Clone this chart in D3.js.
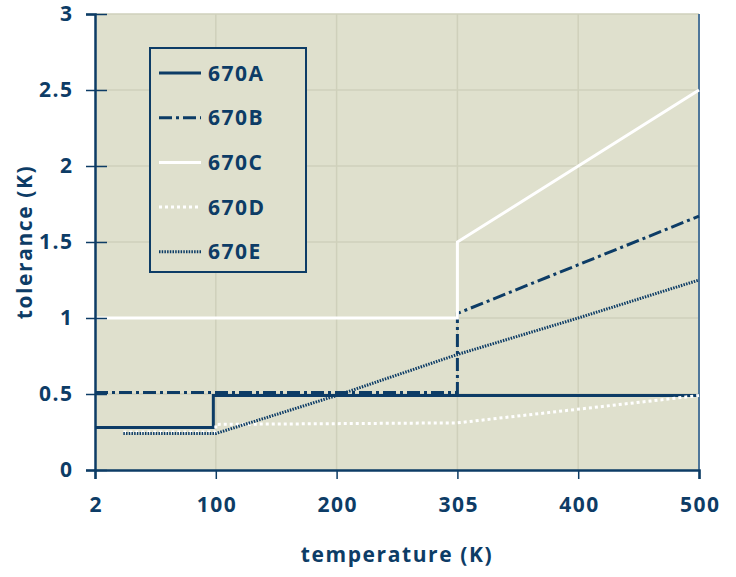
<!DOCTYPE html>
<html>
<head>
<meta charset="utf-8">
<script src="https://cdnjs.cloudflare.com/ajax/libs/d3/7.8.5/d3.min.js"></script>
<style>
	body { margin: 0; background: #fff; }
	text { font-family: "Open Sans", sans-serif; font-weight: 700; fill: #0d3c66; }
</style>
</head>
<body>
<svg class="chart"></svg>
<script>
/* Tolerance bands of the 670 sensor series */

// Tick values
var xTicks = [2, 100, 200, 305, 400, 500];
var yTicks = [0, 0.5, 1, 1.5, 2, 2.5, 3];

// Series names
var series = ["670A", "670B", "670C", "670D", "670E"];

// Series values as [temperature, tolerance]
var band670A = [[2, 0.28], [98, 0.28], [98, 0.49], [500, 0.49]];
var band670B = [[2, 0.51], [305, 0.51], [305, 1.03], [500, 1.67]];
var band670C = [[2, 1.0], [305, 1.0], [305, 1.5], [500, 2.5]];
var band670D = [[25, 0.25], [100, 0.25], [100, 0.3], [305, 0.31], [500, 0.49]];
var band670E = [[25, 0.24], [100, 0.24], [200, 0.49], [305, 0.76], [400, 1.0], [500, 1.25]];

var navy = "#0d3c66";

function drawChart() {
	var values = [band670A, band670B, band670C, band670D, band670E];
	var styles = [
		{stroke: navy, width: 3, dash: null},
		{stroke: navy, width: 3, dash: "13,4,3,4"},
		{stroke: "#ffffff", width: 3, dash: null},
		{stroke: "#ffffff", width: 3, dash: "3,3"},
		{stroke: navy, width: 3, dash: "1.5,1.2"}
	];

	var margin = {top: 14, right: 37, bottom: 107, left: 95},
		width = 736 - margin.left - margin.right,
		height = 577 - margin.top - margin.bottom;

	// ticks are evenly spaced, so map them piecewise
	var x = d3.scaleLinear()
		.domain(xTicks)
		.range(xTicks.map(function(d, i) { return i * width / (xTicks.length - 1); }));

	var y = d3.scaleLinear()
		.domain([0, 3])
		.range([height, 0]);

	var svg = d3.select(".chart")
		.attr("width", 736)
		.attr("height", 577);

	var chart = svg.append("g")
		.attr("transform", "translate(" + margin.left + "," + margin.top + ")");

	chart.append("rect")
		.attr("width", width)
		.attr("height", height)
		.attr("fill", "#dfe0cd");

	// grid
	chart.selectAll(".vgrid")
		.data(xTicks.slice(1, -1))
	  .enter().append("line")
		.attr("x1", function(d) { return x(d); })
		.attr("x2", function(d) { return x(d); })
		.attr("y1", 0)
		.attr("y2", height)
		.attr("stroke", "#cfd0bb")
		.attr("stroke-width", 1.5);

	chart.selectAll(".hgrid")
		.data(yTicks.slice(1))
	  .enter().append("line")
		.attr("x1", 0)
		.attr("x2", width)
		.attr("y1", function(d) { return y(d); })
		.attr("y2", function(d) { return y(d); })
		.attr("stroke", "#cfd0bb")
		.attr("stroke-width", 1.5);

	// right border
	chart.append("line")
		.attr("x1", width).attr("x2", width)
		.attr("y1", 0).attr("y2", height)
		.attr("stroke", "#4f769a")
		.attr("stroke-width", 2);

	// series lines
	var line = d3.line()
		.x(function(d) { return x(d[0]); })
		.y(function(d) { return y(d[1]); });

	chart.selectAll(".series")
		.data(values)
	  .enter().append("path")
		.attr("class", "series")
		.attr("d", line)
		.attr("fill", "none")
		.attr("stroke", function(d, i) { return styles[i].stroke; })
		.attr("stroke-width", function(d, i) { return styles[i].width; })
		.attr("stroke-dasharray", function(d, i) { return styles[i].dash; });

	// axes
	var xAxis = d3.axisBottom(x)
		.tickValues(xTicks)
		.tickFormat(d3.format("d"))
		.tickSize(9)
		.tickPadding(18);

	var yAxis = d3.axisLeft(y)
		.tickValues(yTicks)
		.tickFormat(function(d) { return d; })
		.tickSize(9)
		.tickPadding(14);

	var gx = chart.append("g")
		.attr("transform", "translate(0," + height + ")")
		.call(xAxis);

	var gy = chart.append("g")
		.call(yAxis);

	[gx, gy].forEach(function(g) {
		g.select(".domain").attr("stroke", navy).attr("stroke-width", 2.5);
		g.selectAll(".tick line").attr("stroke", navy).attr("stroke-width", 1.5);
		g.selectAll(".tick text")
			.attr("fill", navy)
			.style("font-size", "21px")
			.style("letter-spacing", "1.5px");
	});

	// y ticks cross into the plot
	gy.selectAll(".tick line").attr("x2", 12).attr("x1", -9);
	gy.selectAll(".tick text").attr("dx", "1.5px");
	gx.selectAll(".tick text").attr("dx", "0.75px");

	// axis titles
	svg.append("text")
		.attr("x", 397)
		.attr("y", 562)
		.attr("text-anchor", "middle")
		.style("font-size", "21px")
		.style("letter-spacing", "1.6px")
		.text("temperature (K)");

	svg.append("text")
		.attr("transform", "translate(32," + 242 + ") rotate(-90)")
		.attr("text-anchor", "middle")
		.style("font-size", "21px")
		.style("letter-spacing", "1.6px")
		.text("tolerance (K)");

	// legend
	var legend = svg.append("g")
		.attr("transform", "translate(150,48)");

	legend.append("rect")
		.attr("width", 156)
		.attr("height", 224)
		.attr("fill", "#dfe0cd")
		.attr("stroke", navy)
		.attr("stroke-width", 2);

	var item = legend.selectAll(".item")
		.data(series)
	  .enter().append("g")
		.attr("transform", function(d, i) { return "translate(0," + (25 + i * 44.7) + ")"; });

	item.append("line")
		.attr("x1", 9)
		.attr("x2", 51)
		.attr("stroke", function(d, i) { return styles[i].stroke; })
		.attr("stroke-width", function(d, i) { return styles[i].width; })
		.attr("stroke-dasharray", function(d, i) { return styles[i].dash; });

	item.append("text")
		.attr("x", 58)
		.attr("dy", "0.36em")
		.style("font-size", "21px")
		.style("letter-spacing", "1.5px")
		.text(function(d) { return d; });
}

drawChart();
</script>
</body>
</html>
